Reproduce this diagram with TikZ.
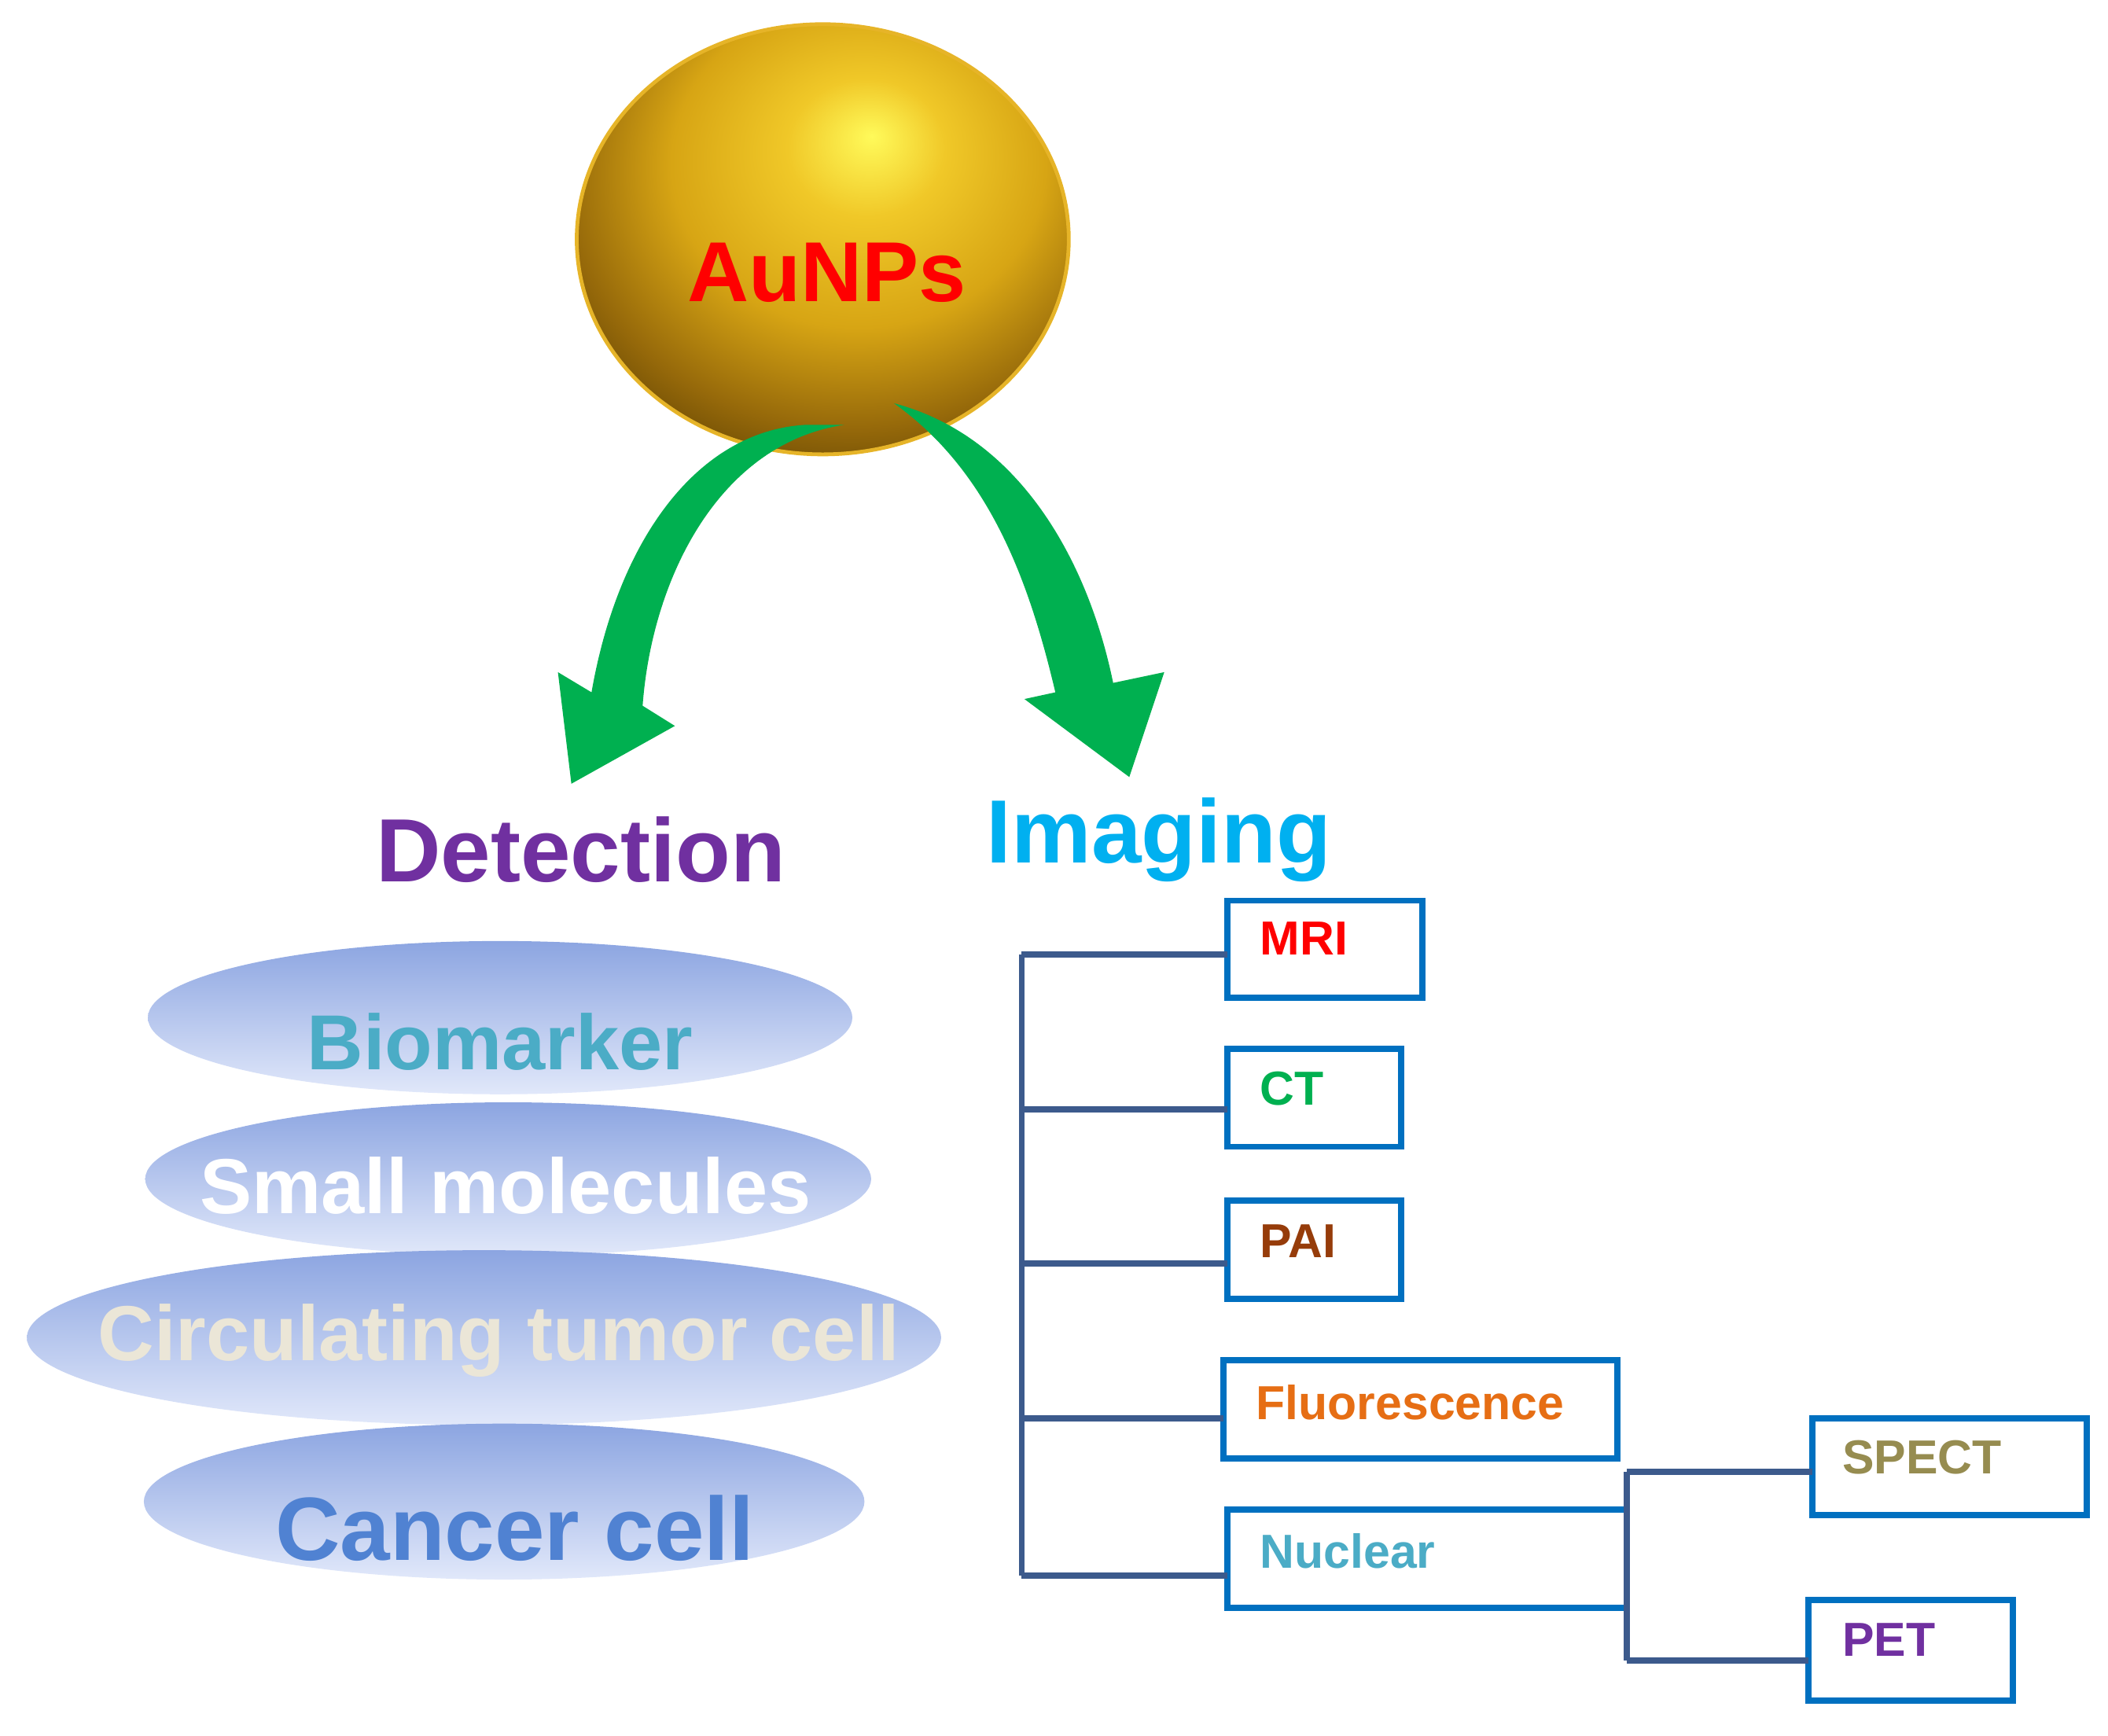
\documentclass[tikz,border=0pt]{standalone}
\usepackage{fontspec}
\setmainfont{Liberation Sans}
\definecolor{gA}{RGB}{255,250,90}
\definecolor{gB}{RGB}{240,200,40}
\definecolor{gC}{RGB}{215,165,20}
\definecolor{gD}{RGB}{150,105,10}
\definecolor{gE}{RGB}{80,55,0}
\pgfdeclareradialshading{goldball}{\pgfpoint{5bp}{12bp}}{%
 color(0bp)=(gA);
 color(8bp)=(gB);
 color(19bp)=(gC);
 color(29bp)=(gD);
 color(38bp)=(gE);
 color(70bp)=(gE)}
\begin{document}
\begin{tikzpicture}[x=0.01cm,y=-0.01cm,
  box/.style={draw={rgb,255:red,0;green,112;blue,192},line width=1.3pt,fill=white},
  lbl/.style={anchor=west,font=\bfseries\fontsize{10.1}{12}\selectfont},
  tree/.style={draw={rgb,255:red,60;green,90;blue,140},line width=1.3pt},
  ell/.style={top color={rgb,255:red,140;green,165;blue,225},bottom color={rgb,255:red,225;green,232;blue,250}},
  etxt/.style={font=\bfseries\fontsize{16.5}{19}\selectfont}]
\useasboundingbox (0,0) rectangle (1568,1291);
% sphere
\shade[shading=goldball,draw={rgb,255:red,230;green,180;blue,40},line width=0.8pt] (612,178) ellipse [x radius=183,y radius=160];
\node[text=red,font=\bfseries\fontsize{18}{22}\selectfont] (au) at (615,203) {AuNPs};
% arrows
\definecolor{ag}{RGB}{0,176,80}
\fill[ag] (628,316) .. controls (535,330) and (485,430) .. (478,525) -- (502,540) -- (425,583) -- (415,500) -- (440,515) .. controls (460,400) and (520,320) .. (600,316) -- cycle;
\fill[ag] (665,300) .. controls (760,325) and (810,420) .. (828,508) -- (866,500) -- (840,578) -- (762,520) -- (785,515) .. controls (765,430) and (735,350) .. (665,300) -- cycle;
\node[text={rgb,255:red,112;green,48;blue,160},font=\bfseries\fontsize{19}{22}\selectfont] (det) at (432,632) {Detection};
\node[text={rgb,255:red,0;green,176;blue,240},font=\bfseries\fontsize{19}{22}\selectfont] (img) at (862,625) {Imaging};
% ellipses
\shade[ell] (372,757) ellipse [x radius=262,y radius=57];
\node[etxt,text={rgb,255:red,75;green,172;blue,198}] (bio) at (372,775) {Biomarker};
\shade[ell] (378,877) ellipse [x radius=270,y radius=57];
\node[etxt,text=white] (sm) at (376,882) {Small molecules};
\shade[ell] (360,995) ellipse [x radius=340,y radius=65];
\node[etxt,text={rgb,255:red,235;green,230;blue,215}] (ctc) at (371,997) {Circulating tumor cell};
\shade[ell] (375,1117) ellipse [x radius=268,y radius=58];
\node[etxt,text={rgb,255:red,80;green,130;blue,210},font=\bfseries\fontsize{19}{22}\selectfont] (cc) at (383,1137) {Cancer cell};
% tree
\coordinate (t1) at (760,710); \coordinate (t5) at (760,1172);
\draw[tree] (t1) -- (t5);
\draw[box] (913,670) rectangle (1058,742); \node[lbl,text=red] (mri) at (925,698) {MRI};
\draw[box] (913,780) rectangle (1042,853); \node[lbl,text={rgb,255:red,0;green,176;blue,80}] (ct) at (925,810) {CT};
\draw[box] (913,893) rectangle (1042,966); \node[lbl,text={rgb,255:red,150;green,60;blue,10}] (pai) at (925,923) {PAI};
\draw[box] (910,1012) rectangle (1203,1085); \node[lbl,text={rgb,255:red,230;green,110;blue,20}] (fl) at (922,1043) {Fluorescence};
\draw[box] (913,1123) rectangle (1210,1196); \node[lbl,text={rgb,255:red,75;green,172;blue,198}] (nu) at (925,1154) {Nuclear};
\draw[box] (1348,1055) rectangle (1552,1127); \node[lbl,text={rgb,255:red,150;green,140;blue,80}] (sp) at (1358,1084) {SPECT};
\draw[box] (1345,1190) rectangle (1497,1265); \node[lbl,text={rgb,255:red,112;green,48;blue,160}] (pet) at (1358,1220) {PET};
\draw[tree] (760,710) -- (913,710);
\draw[tree] (760,825) -- (913,825);
\draw[tree] (760,940) -- (913,940);
\draw[tree] (760,1055) -- (910,1055);
\draw[tree] (760,1172) -- (913,1172);
\draw[tree] (1210,1095) -- (1210,1235);
\draw[tree] (1210,1095) -- (1348,1095);
\draw[tree] (1210,1235) -- (1345,1235);
\end{tikzpicture}
\end{document}
